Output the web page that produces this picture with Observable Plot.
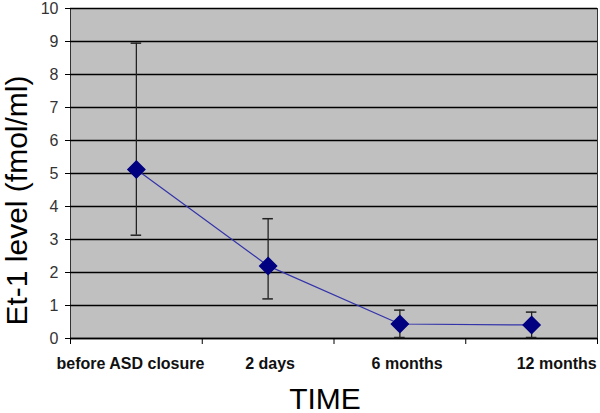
<!DOCTYPE html>
<html><head><meta charset="utf-8">
<script src="https://cdn.jsdelivr.net/npm/d3@7"></script>
<script src="https://cdn.jsdelivr.net/npm/@observablehq/plot@0.6"></script>
<style>body{margin:0;background:#fff;font-family:Arial,"Liberation Sans",sans-serif}
svg{overflow:visible}</style>
</head><body><div id="chart"></div>
<script>
const categories = ["before ASD closure", "2 days", "6 months", "12 months"];
const means = [5.12, 2.2, 0.44, 0.41];
const upper = [8.95, 3.63, 0.86, 0.8];
const lower = [3.13, 1.2, 0.03, 0.03];
const yTicks = [0,1,2,3,4,5,6,7,8,9,10];

const data = categories.map((c,i)=>({c, x:i+0.5, m:means[i], hi:upper[i], lo:lower[i]}));
const capHalf = 0.04;
// label placement nudges (in category units) to mimic the original layout
const labelShift = [-0.045, 0.015, 0.055, 0.19];

const plot = Plot.plot({
  width: 600, height: 413,
  marginLeft: 70, marginRight: 3, marginTop: 8, marginBottom: 75,
  style: {fontFamily: "Arial, 'Liberation Sans', sans-serif", background: "#fff", overflow: "visible"},
  x: {domain: [0,4]},
  y: {domain: [0,10]},
  marks: [
    Plot.frame({fill: "#c0c0c0", stroke: "#333"}),
    Plot.gridY(yTicks, {stroke: "#000", strokeOpacity: 1, strokeWidth: 1.3}),
    Plot.axisY({ticks: yTicks, tickSize: 5, tickPadding: 7, fontSize: 16, color: "#333", stroke:"#000", label: null}),
    Plot.axisX({ticks: [0,1,2,3,4], tickSize: 6, tickFormat: () => "", label: null, stroke:"#000"}),
    Plot.text(data, {x: (d,i) => d.x + labelShift[i], text: "c", frameAnchor: "bottom", lineAnchor: "top", dy: 19, fontSize: 16, fontWeight: "bold", fill: "#111"}),
    Plot.ruleY([0], {stroke: "#000", strokeWidth: 1.3}),
    Plot.ruleX(data, {x: "x", y1: "lo", y2: "hi", stroke: "#222", strokeWidth: 1.3}),
    Plot.ruleY(data, {x1: d => d.x - capHalf, x2: d => d.x + capHalf, y: "hi", stroke: "#222", strokeWidth: 1.5}),
    Plot.ruleY(data, {x1: d => d.x - capHalf, x2: d => d.x + capHalf, y: "lo", stroke: "#222", strokeWidth: 1.5}),
    Plot.line(data, {x: "x", y: "m", stroke: "#3333aa", strokeWidth: 1.2}),
    Plot.dot(data, {x: "x", y: "m", symbol: "diamond2", r: 7.6, fill: "#000080", stroke: "#000080"}),
    Plot.text(["Et-1 level (fmol/ml)"], {frameAnchor: "left", textAnchor: "middle", rotate: -90, dx: -53, dy: 27, fontSize: 30, fill: "#000"}),
    Plot.text(["TIME"], {frameAnchor: "bottom", textAnchor: "middle", lineAnchor: "bottom", dx: -9, dy: 70, fontSize: 30, fill: "#000"})
  ]
});
document.getElementById("chart").append(plot);
</script></body></html>
